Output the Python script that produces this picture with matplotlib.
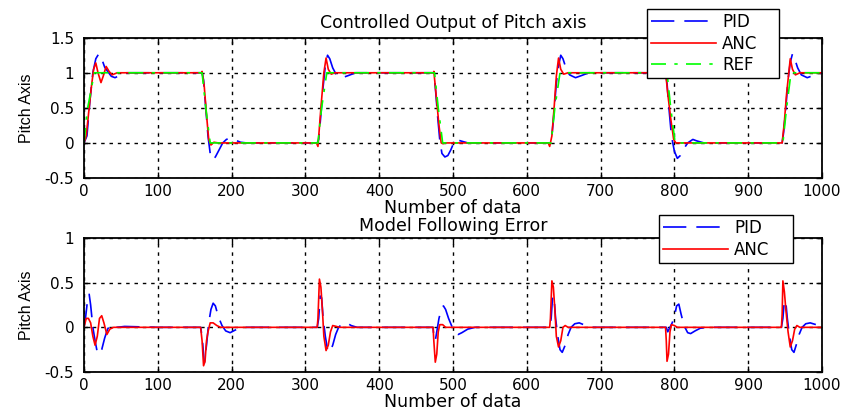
import matplotlib
matplotlib.use("Agg")
import matplotlib.pyplot as plt

plt.rcParams['font.family'] = ['DejaVu Sans']

# ---------------- data ----------------
ref_x = [0, 5, 14, 160, 165, 171, 317, 322, 329, 475, 480, 486, 633, 638, 645, 790, 795, 801, 947, 952, 958, 1000]
ref_y = [0, 0.5, 1, 1, 0.5, 0, 0, 0.5, 1, 1, 0.5, 0, 0, 0.5, 1, 1, 0.5, 0, 0, 0.5, 1, 1]

anc_x = [0, 3, 6, 10, 13, 16, 19, 23, 26, 30, 34, 38, 45, 160,
         160, 163, 166, 169, 172, 176, 182, 315,
         317, 321, 325, 328, 331, 335, 340, 474,
         474, 477, 481, 484, 486, 490, 629,
         631, 634, 637, 640, 643, 646, 650, 656, 788,
         788, 791, 795, 799, 802, 946,
         949, 952, 955, 957, 960, 964, 970, 1000]
anc_y = [0, 0.1, 0.4, 0.8, 1.05, 1.14, 1.0, 0.86, 0.95, 1.09, 1.02, 0.97, 1.0, 1.0,
         1.02, 0.8, 0.4, 0.05, -0.03, 0.01, 0, 0,
         -0.05, 0.5, 1.0, 1.21, 1.05, 0.98, 1.0, 1.0,
         1.02, 0.7, 0.25, 0.0, -0.01, 0, 0,
         -0.05, 0.1, 0.5, 0.95, 1.21, 1.05, 0.98, 1.0, 1.0,
         1.02, 0.7, 0.35, 0.05, 0, 0,
         0.3, 0.7, 1.0, 1.2, 1.05, 0.97, 1.0, 1.0]

pid_x = [0, 4, 8, 12, 16, 20, 24, 28, 32, 37, 42, 50, 56, 160,
         162, 165, 168, 171, 174, 178, 183, 188, 193, 198, 205, 212, 220, 316,
         318, 321, 324, 327, 330, 333, 337, 342, 350, 358, 368, 474,
         476, 479, 482, 485, 489, 493, 497, 501, 505, 510, 520, 632,
         634, 637, 640, 643, 646, 649, 653, 658, 666, 674, 684, 788,
         790, 793, 796, 800, 804, 808, 813, 818, 825, 830, 840, 946,
         948, 951, 954, 957, 960, 963, 967, 972, 980, 988, 1000]
pid_y = [0, 0.1, 0.6, 1.0, 1.2, 1.27, 1.2, 1.08, 1.02, 0.95, 0.93, 0.97, 1.0, 1.0,
         0.9, 0.5, 0.1, -0.15, -0.24, -0.2, -0.1, 0.0, 0.05, 0.07, 0.04, 0.01, 0, 0,
         0.05, 0.4, 0.8, 1.1, 1.25, 1.2, 1.07, 0.97, 0.93, 0.96, 1.0, 1.0,
         0.8, 0.4, 0.05, -0.15, -0.2, -0.18, -0.1, 0.0, 0.05, 0.03, 0.0, 0,
         0.1, 0.45, 0.85, 1.1, 1.25, 1.2, 1.07, 0.97, 0.93, 0.96, 1.0, 1.0,
         0.85, 0.45, 0.1, -0.12, -0.22, -0.18, -0.08, 0.0, 0.05, 0.03, 0.0, 0,
         0.15, 0.5, 0.9, 1.15, 1.27, 1.2, 1.07, 0.97, 0.93, 0.96, 1.0]

anc_err_x = [0, 3, 6, 9, 12, 15, 18, 21, 24, 27, 31, 35, 40, 158,
             160, 162, 164, 166, 168, 171, 175, 180, 185, 316,
             317, 319, 321, 323, 325, 328, 331, 334, 337, 342, 346, 473,
             474, 476, 478, 480, 482, 486, 490, 631,
             632, 634, 636, 638, 640, 643, 646, 649, 652, 656, 788,
             789, 790, 792, 794, 796, 800, 804, 945,
             946, 947, 949, 951, 954, 957, 960, 963, 966, 970, 1000]
anc_err_y = [0, 0.1, 0.1, 0.05, -0.1, -0.2, -0.1, 0.1, 0.13, 0.05, -0.08, -0.02, 0, 0,
             -0.15, -0.43, -0.38, -0.15, -0.05, 0.05, 0.05, 0.02, 0, 0,
             0.1, 0.54, 0.45, 0.2, -0.1, -0.26, -0.2, -0.05, 0.02, 0.01, 0, 0,
             -0.15, -0.39, -0.3, -0.05, 0.03, 0.03, 0, 0,
             0.1, 0.52, 0.45, 0.2, -0.1, -0.22, -0.15, 0.0, 0.02, 0, 0,
             -0.15, -0.38, -0.3, -0.05, 0.03, 0.02, 0, 0,
             0.15, 0.52, 0.4, 0.2, -0.05, -0.22, -0.15, -0.02, 0.02, 0, 0]

pid_err_x = [0, 2, 5, 7, 9, 12, 15, 18, 21, 24, 28, 32, 36, 40, 45, 55, 100, 158,
             160, 163, 166, 169, 172, 175, 178, 182, 187, 192, 198, 205, 215, 316,
             318, 320, 322, 324, 327, 330, 333, 337, 341, 345, 350, 356, 362, 370, 473,
             474, 476, 478, 481, 484, 487, 490, 494, 498, 502, 507, 512, 520, 530, 631,
             633, 635, 637, 639, 642, 645, 648, 652, 656, 660, 665, 671, 677, 685, 789,
             791, 794, 797, 800, 803, 806, 809, 813, 818, 822, 828, 835, 845, 945,
             947, 949, 951, 953, 956, 959, 962, 965, 969, 973, 978, 984, 992, 1000]
pid_err_y = [0, 0.1, 0.32, 0.37, 0.25, 0.0, -0.15, -0.28, -0.3, -0.25, -0.12, -0.02, 0.03, 0.03, 0.0, 0.01, 0, 0,
             -0.1, -0.4, -0.2, 0.05, 0.2, 0.27, 0.24, 0.12, 0.02, -0.04, -0.06, -0.03, 0, 0,
             0.1, 0.35, 0.33, 0.1, -0.1, -0.25, -0.28, -0.2, -0.08, 0.0, 0.04, 0.05, 0.02, 0, 0,
             -0.1, -0.15, -0.05, 0.1, 0.2, 0.24, 0.2, 0.1, 0.02, -0.05, -0.08, -0.06, -0.02, 0, 0,
             0.1, 0.35, 0.33, 0.1, -0.1, -0.25, -0.28, -0.2, -0.08, 0.0, 0.04, 0.05, 0.03, 0, 0,
             -0.05, 0.0, 0.05, 0.12, 0.24, 0.26, 0.15, 0.02, -0.06, -0.07, -0.04, -0.01, 0, 0,
             0.1, 0.3, 0.28, 0.1, -0.1, -0.25, -0.28, -0.2, -0.08, 0.0, 0.04, 0.05, 0.03, 0.0]

x_ticks = [0, 100, 200, 300, 400, 500, 600, 700, 800, 900, 1000]
top_yticks = [-0.5, 0, 0.5, 1, 1.5]
bot_yticks = [-0.5, 0, 0.5, 1]
top_ytick_labels = ['-0.5', '0', '0.5', '1', '1.5']
bot_ytick_labels = ['-0.5', '0', '0.5', '1']

# ---------------- figure ----------------
W, H = 844, 412
fig = plt.figure(figsize=(W / 100, H / 100), dpi=100)
ax1 = fig.add_axes([84 / W, 1 - 178 / H, (822 - 84) / W, (178 - 37.7) / H])
ax2 = fig.add_axes([84 / W, 1 - 372 / H, (822 - 84) / W, (372 - 238) / H])

blue_dash = (0, (14, 6))
green_dd = (0, (9, 5, 2, 5))
grid_style = (0, (2.5, 3.5))
fs = 11
fs_lab = 12.5

def style(ax, yticks, ylabels, ylim):
    ax.set_xlim(0, 1000)
    ax.set_ylim(*ylim)
    ax.set_xticks(x_ticks)
    ax.set_xticklabels([str(t) for t in x_ticks], fontsize=fs)
    ax.set_yticks(yticks)
    ax.set_yticklabels(ylabels, fontsize=fs)
    ax.tick_params(direction='in', length=4, width=1, top=True, right=True)
    ax.tick_params(axis='y', pad=7)
    ax.tick_params(axis='x', pad=4)
    ax.grid(True, color='black', linestyle=grid_style, linewidth=1.0)
    for s in ax.spines.values():
        s.set_linewidth(1.3)
    ax.set_ylabel('Pitch Axis', fontsize=11.5, labelpad=8,
                  family=['Liberation Sans', 'DejaVu Sans'])

ax1.plot(pid_x, pid_y, color='#0000ff', linestyle=blue_dash, linewidth=1.2, label='PID')
ax1.plot(anc_x, anc_y, color='#ff0000', linewidth=1.2, label='ANC')
ax1.plot(ref_x, ref_y, color='#00ff00', linestyle=green_dd, linewidth=1.2, label='REF')
style(ax1, top_yticks, top_ytick_labels, (-0.5, 1.5))
ax1.set_title('Controlled Output of Pitch axis', fontsize=fs_lab, pad=7)
ax1.set_xlabel('Number of data', fontsize=fs_lab, labelpad=0)

ax2.plot(pid_err_x, pid_err_y, color='#0000ff', linestyle=blue_dash, linewidth=1.2, label='PID')
ax2.plot(anc_err_x, anc_err_y, color='#ff0000', linewidth=1.2, label='ANC')
style(ax2, bot_yticks, bot_ytick_labels, (-0.5, 1.0))
ax2.set_title('Model Following Error', fontsize=fs_lab, pad=5)
ax2.set_xlabel('Number of data', fontsize=fs_lab, labelpad=0)

for ax, box in ((ax1, (647, 9, 779, 72)), (ax2, (659, 215, 793, 259))):
    x0, y0, x1, y1 = box
    leg = ax.legend(loc='upper left', bbox_to_anchor=(x0 / W, 1 - y1 / H, (x1 - x0) / W, (y1 - y0) / H),
                    bbox_transform=fig.transFigure, mode='expand', fontsize=12, frameon=True,
                    fancybox=False, edgecolor='black', framealpha=1, borderpad=0.25,
                    labelspacing=0.2, handlelength=3.9, handletextpad=0.35, borderaxespad=0)
    leg.get_frame().set_linewidth(1.0)

fig.savefig('out.png', dpi=100)
